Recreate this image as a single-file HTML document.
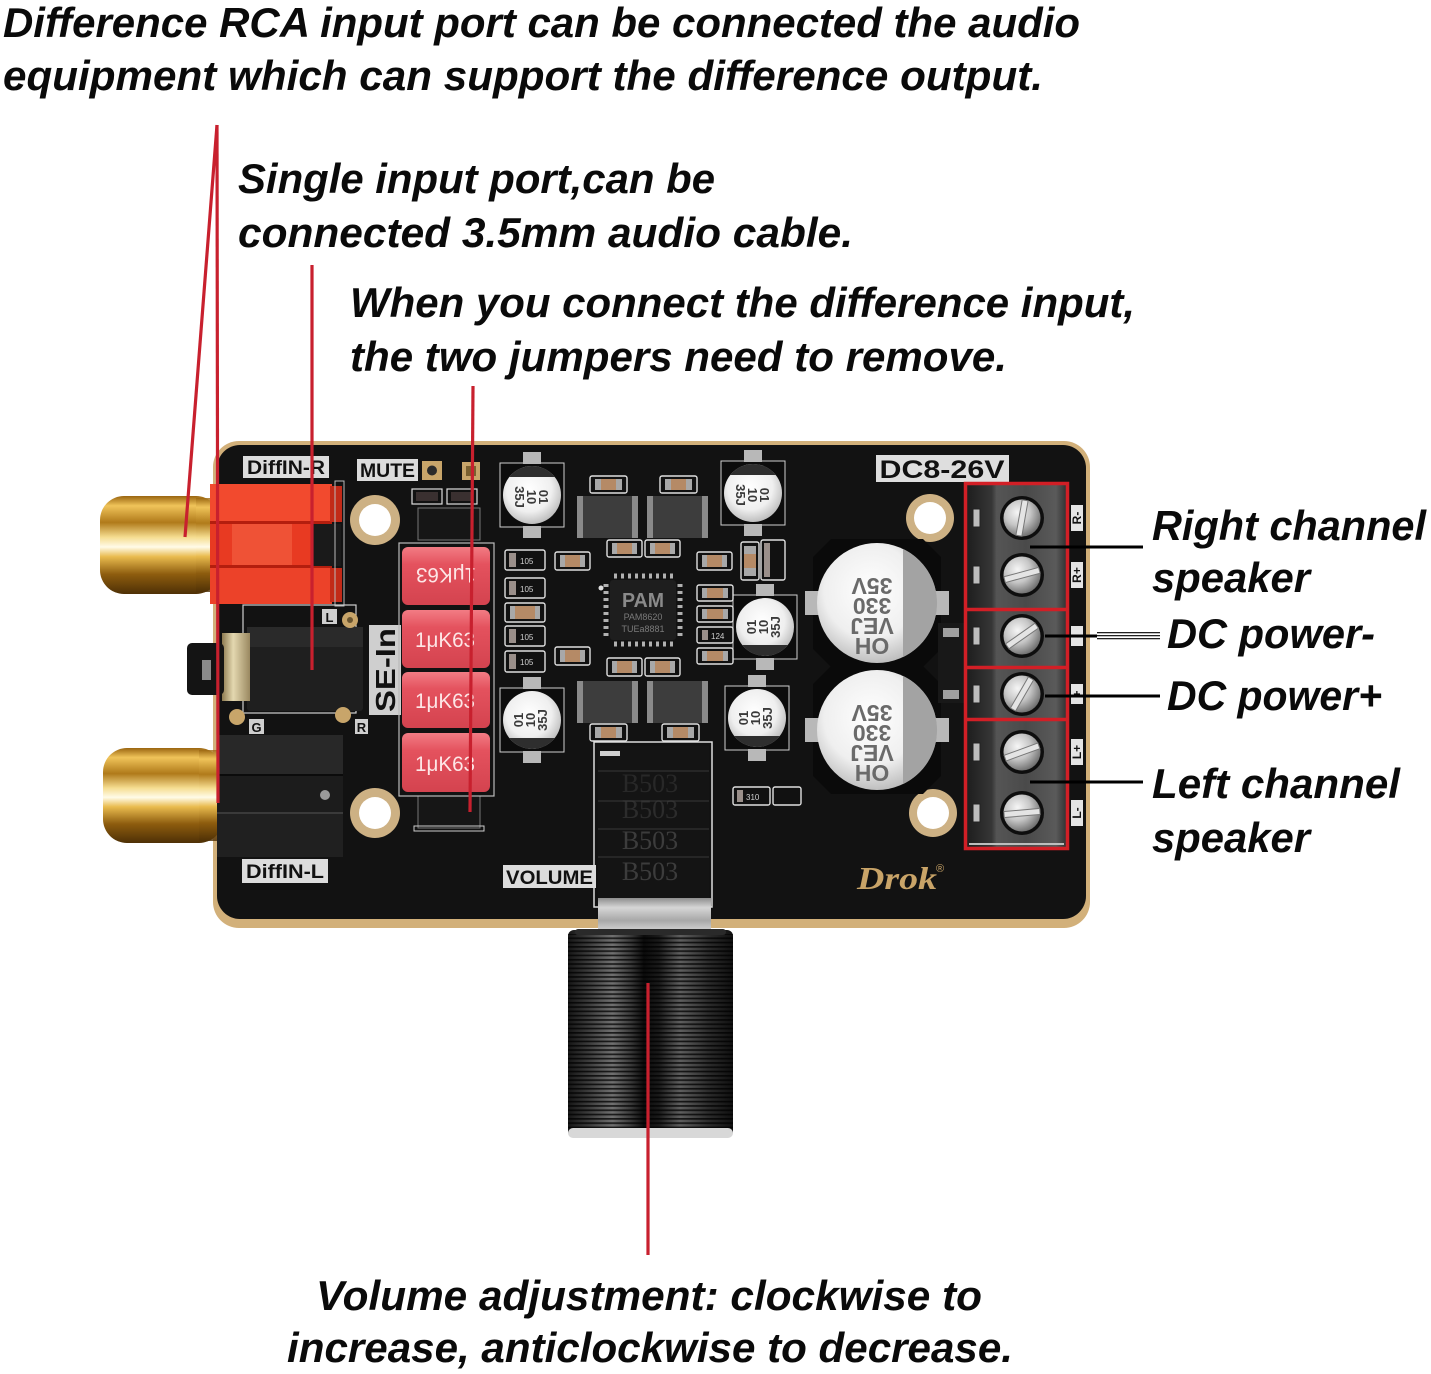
<!DOCTYPE html>
<html><head><meta charset="utf-8"><style>
html,body{margin:0;padding:0;background:#fff;}
svg{display:block;}
.t{font-family:"Liberation Sans",Arial,sans-serif;font-weight:bold;font-style:italic;font-size:42px;fill:#0a0a0a;}
.lb{font-family:"Liberation Sans",Arial,sans-serif;font-weight:bold;fill:#111;}
.sm{font-family:"Liberation Sans",Arial,sans-serif;fill:#cfcfcf;font-size:8px;}
</style></head><body>
<svg width="1431" height="1374" viewBox="0 0 1431 1374" xmlns="http://www.w3.org/2000/svg">
<defs>
<linearGradient id="gold" x1="0" y1="0" x2="0" y2="1">
<stop offset="0" stop-color="#9a6510"/><stop offset="0.1" stop-color="#f0c45a"/><stop offset="0.27" stop-color="#b07a1a"/><stop offset="0.42" stop-color="#f5dd90"/><stop offset="0.52" stop-color="#fffbe8"/><stop offset="0.62" stop-color="#e9bb4e"/><stop offset="0.8" stop-color="#8d5c0e"/><stop offset="1" stop-color="#4e3006"/>
</linearGradient>
<radialGradient id="silv" cx="0.45" cy="0.4" r="0.65"><stop offset="0" stop-color="#ffffff"/><stop offset="0.6" stop-color="#efefef"/><stop offset="1" stop-color="#b4b4b4"/></radialGradient>
<radialGradient id="scr" cx="0.38" cy="0.35" r="0.7"><stop offset="0" stop-color="#f6f6f6"/><stop offset="0.5" stop-color="#c6c6c6"/><stop offset="1" stop-color="#6a6a6a"/></radialGradient>
<linearGradient id="knob" x1="0" y1="0" x2="1" y2="0">
<stop offset="0" stop-color="#161616"/><stop offset="0.12" stop-color="#3a3a3a"/><stop offset="0.27" stop-color="#707070"/><stop offset="0.38" stop-color="#3a3a3a"/><stop offset="0.46" stop-color="#0b0b0b"/><stop offset="0.55" stop-color="#1a1a1a"/><stop offset="0.68" stop-color="#5e5e5e"/><stop offset="0.85" stop-color="#2c2c2c"/><stop offset="1" stop-color="#101010"/>
</linearGradient>
<pattern id="grv" width="10" height="4.3" patternUnits="userSpaceOnUse"><rect width="10" height="1.7" fill="#000" opacity="0.75"/></pattern>
<linearGradient id="alu" x1="0" y1="0" x2="0" y2="1"><stop offset="0" stop-color="#8e8e8e"/><stop offset="0.3" stop-color="#d6d6d6"/><stop offset="0.7" stop-color="#a8a8a8"/><stop offset="1" stop-color="#cfcfcf"/></linearGradient>
<linearGradient id="term" x1="0" y1="0" x2="1" y2="0"><stop offset="0" stop-color="#1e1e1e"/><stop offset="0.25" stop-color="#363636"/><stop offset="0.3" stop-color="#555"/><stop offset="0.6" stop-color="#4a4a4a"/><stop offset="0.9" stop-color="#5a5a5a"/><stop offset="1" stop-color="#333"/></linearGradient>
<linearGradient id="film" x1="0" y1="0" x2="0" y2="1"><stop offset="0" stop-color="#f27c84"/><stop offset="0.3" stop-color="#e4525e"/><stop offset="1" stop-color="#d4434f"/></linearGradient>
<linearGradient id="shield" x1="0" y1="0" x2="1" y2="0"><stop offset="0" stop-color="#8c7a50"/><stop offset="0.4" stop-color="#e4d8b0"/><stop offset="1" stop-color="#9a8860"/></linearGradient>
</defs>
<rect width="1431" height="1374" fill="#fff"/>

<!-- Board -->
<rect x="213" y="441" width="877" height="487" rx="26" fill="#d2b07a"/>
<rect x="217" y="445" width="869" height="474" rx="23" fill="#121212"/>

<!-- RCA barrels -->
<rect x="100" y="496" width="120" height="98" rx="24" fill="url(#gold)"/>
<rect x="196" y="498" width="20" height="94" fill="url(#gold)" opacity="0.8"/>
<rect x="103" y="748" width="120" height="95" rx="24" fill="url(#gold)"/>
<rect x="199" y="750" width="20" height="91" fill="url(#gold)" opacity="0.8"/>

<!-- Red RCA block -->
<rect x="210" y="484" width="122" height="120" fill="#e83a22"/>
<rect x="210" y="484" width="122" height="38" fill="#f24a2e"/>
<rect x="210" y="521" width="122" height="3" fill="#b41e0e"/>
<rect x="232" y="524" width="60" height="42" fill="#ef5236"/>
<rect x="210" y="565" width="122" height="3" fill="#b41e0e"/>
<rect x="210" y="568" width="122" height="36" fill="#ec4229"/>
<rect x="313" y="524" width="28" height="42" fill="#1a1a1a"/>
<rect x="330" y="486" width="12" height="36" fill="#c22a18"/>
<rect x="330" y="568" width="12" height="34" fill="#c22a18"/>
<rect x="335" y="481" width="9" height="125" fill="none" stroke="#bbb" stroke-width="1"/>

<!-- Black RCA block -->
<rect x="217" y="735" width="126" height="122" fill="#1c1c1c"/>
<rect x="217" y="735" width="126" height="40" fill="#282828"/>
<rect x="217" y="774" width="126" height="2" fill="#0b0b0b"/>
<rect x="217" y="812" width="126" height="45" fill="#202020"/>
<rect x="217" y="812" width="126" height="2" fill="#3a3a3a"/>
<circle cx="325" cy="795" r="5" fill="#9a9a9a"/>

<!-- 3.5mm jack -->
<rect x="243" y="605" width="113" height="108" fill="none" stroke="#cfcfcf" stroke-width="1.2"/>
<rect x="247" y="627" width="116" height="84" rx="3" fill="#1f1f1f"/>
<rect x="247" y="627" width="116" height="20" fill="#2a2a2a"/>
<rect x="222" y="633" width="28" height="68" fill="url(#shield)"/>
<rect x="187" y="643" width="37" height="52" rx="5" fill="#141414"/>
<rect x="202" y="660" width="9" height="20" fill="#8a8a8a"/>
<circle cx="350" cy="620" r="8" fill="#c8a56a"/><circle cx="350" cy="620" r="3" fill="#6a5530"/>
<circle cx="237" cy="717" r="8" fill="#c8a56a"/>
<circle cx="343" cy="715" r="8" fill="#c8a56a"/>
<rect x="322" y="609" width="15" height="15" fill="#cfcfcf"/><text x="329.5" y="622" class="lb" font-size="13" text-anchor="middle">L</text>
<rect x="249" y="719" width="15" height="15" fill="#cfcfcf"/><text x="256.5" y="732" class="lb" font-size="13" text-anchor="middle">G</text>
<rect x="355" y="719" width="13" height="15" fill="#cfcfcf"/><text x="361.5" y="732" class="lb" font-size="13" text-anchor="middle">R</text>

<!-- Labels -->
<rect x="243" y="456" width="86" height="22" fill="#dcdcdc"/>
<text x="247" y="474" class="lb" font-size="19" textLength="78" lengthAdjust="spacingAndGlyphs">DiffIN-R</text>
<rect x="357" y="459" width="61" height="22" fill="#dcdcdc"/>
<text x="360" y="477" class="lb" font-size="19" textLength="55" lengthAdjust="spacingAndGlyphs">MUTE</text>
<rect x="422" y="461" width="20" height="19" fill="#c8a56a"/><circle cx="432" cy="470.5" r="5" fill="#2a2a2a"/>
<rect x="462" y="462" width="18" height="18" fill="#c8a56a"/><rect x="466" y="466" width="10" height="10" fill="#7a6030"/>
<rect x="242" y="859" width="86" height="24" fill="#dcdcdc"/>
<text x="246" y="878" class="lb" font-size="19" textLength="78" lengthAdjust="spacingAndGlyphs">DiffIN-L</text>
<rect x="503" y="865" width="93" height="23" fill="#dcdcdc"/>
<text x="506" y="884" class="lb" font-size="19" textLength="87" lengthAdjust="spacingAndGlyphs">VOLUME</text>
<rect x="369" y="625" width="32" height="90" fill="#cfcfcf"/>
<text transform="translate(395,670) rotate(-90)" x="0" y="0" class="lb" font-size="28" text-anchor="middle" textLength="84" lengthAdjust="spacingAndGlyphs">SE-In</text>
<rect x="876" y="455" width="133" height="27" fill="#dedede"/>
<text x="942" y="478" class="lb" font-size="25" text-anchor="middle" textLength="125" lengthAdjust="spacingAndGlyphs">DC8-26V</text>

<!-- Mounting holes -->
<g fill="#cdb184"><circle cx="375" cy="520" r="25"/><circle cx="375" cy="813" r="25"/><circle cx="930" cy="518" r="24"/><circle cx="933" cy="813" r="24"/></g>
<g fill="#fff"><circle cx="375" cy="520" r="16"/><circle cx="375" cy="813" r="16"/><circle cx="930" cy="518" r="16"/><circle cx="933" cy="813" r="16"/></g>

<!-- small SMD above jumper -->
<rect x="412" y="489" width="30" height="15" fill="#111" stroke="#ddd" stroke-width="1.2"/><rect x="416" y="492" width="22" height="9" fill="#3a3030"/>
<rect x="447" y="489" width="30" height="15" fill="#111" stroke="#ddd" stroke-width="1.2"/><rect x="451" y="492" width="22" height="9" fill="#3a3030"/>
<!-- Jumpers -->
<rect x="418" y="508" width="62" height="32" fill="#161616" stroke="#777" stroke-width="1"/>
<rect x="418" y="796" width="62" height="32" fill="#161616" stroke="#777" stroke-width="1"/>
<rect x="414" y="826" width="70" height="5" fill="none" stroke="#ccc" stroke-width="1"/>

<!-- Film caps -->
<rect x="399" y="543" width="95" height="253" fill="none" stroke="#bbb" stroke-width="1.2"/>
<rect x="402" y="547" width="88" height="58" rx="6" fill="url(#film)"/>
<rect x="402" y="610" width="88" height="58" rx="6" fill="url(#film)"/>
<rect x="402" y="672" width="88" height="56" rx="6" fill="url(#film)"/>
<rect x="402" y="733" width="88" height="59" rx="6" fill="url(#film)"/>
<g font-family="Liberation Sans, Arial, sans-serif" font-size="21" fill="#fde6e6" text-anchor="middle">
<text transform="translate(446,576) rotate(180)" y="8" textLength="60" lengthAdjust="spacingAndGlyphs">1μK63</text>
<text x="445" y="647" textLength="60" lengthAdjust="spacingAndGlyphs">1μK63</text>
<text x="445" y="708" textLength="60" lengthAdjust="spacingAndGlyphs">1μK63</text>
<text x="445" y="771" textLength="60" lengthAdjust="spacingAndGlyphs">1μK63</text>
</g>

<!-- Small electrolytic caps -->
<g>
<rect x="500" y="463" width="64" height="64" fill="#0c0c0c" stroke="#cfcfcf" stroke-width="1"/>
<rect x="523" y="452" width="18" height="12" fill="#b8b8b8"/><rect x="523" y="526" width="18" height="12" fill="#b8b8b8"/>
<circle cx="532" cy="495" r="29" fill="url(#silv)"/>
<path d="M509.3 477 A29 29 0 0 1 554.7 477 Z" fill="#2e2e2e"/>

<rect x="721" y="461" width="64" height="64" fill="#0c0c0c" stroke="#cfcfcf" stroke-width="1"/>
<rect x="744" y="450" width="18" height="12" fill="#b8b8b8"/><rect x="744" y="524" width="18" height="12" fill="#b8b8b8"/>
<circle cx="753" cy="493" r="29" fill="url(#silv)"/>
<path d="M730.3 475 A29 29 0 0 1 775.7 475 Z" fill="#2e2e2e"/>

<rect x="733" y="595" width="64" height="64" fill="#0c0c0c" stroke="#cfcfcf" stroke-width="1"/>
<rect x="756" y="584" width="18" height="12" fill="#b8b8b8"/><rect x="756" y="658" width="18" height="12" fill="#b8b8b8"/>
<circle cx="765" cy="627" r="29" fill="url(#silv)"/>
<path d="M787.7 645 A29 29 0 0 1 742.3 645 Z" fill="#2e2e2e"/>

<rect x="500" y="688" width="64" height="64" fill="#0c0c0c" stroke="#cfcfcf" stroke-width="1"/>
<rect x="523" y="677" width="18" height="12" fill="#b8b8b8"/><rect x="523" y="751" width="18" height="12" fill="#b8b8b8"/>
<circle cx="532" cy="720" r="29" fill="url(#silv)"/>
<path d="M554.7 738 A29 29 0 0 1 509.3 738 Z" fill="#2e2e2e"/>

<rect x="725" y="686" width="64" height="64" fill="#0c0c0c" stroke="#cfcfcf" stroke-width="1"/>
<rect x="748" y="675" width="18" height="12" fill="#b8b8b8"/><rect x="748" y="749" width="18" height="12" fill="#b8b8b8"/>
<circle cx="757" cy="718" r="29" fill="url(#silv)"/>
<path d="M779.7 736 A29 29 0 0 1 734.3 736 Z" fill="#2e2e2e"/>
</g>
<g font-family="Liberation Sans, Arial, sans-serif" font-weight="bold" font-size="13" fill="#3a3a3a" text-anchor="middle">
<g transform="translate(532,497) rotate(90)"><text y="-7">01</text><text y="5">10</text><text y="17">35J</text></g>
<g transform="translate(753,495) rotate(90)"><text y="-7">01</text><text y="5">10</text><text y="17">35J</text></g>
<g transform="translate(763,627) rotate(-90)"><text y="-7">01</text><text y="5">10</text><text y="17">35J</text></g>
<g transform="translate(530,720) rotate(-90)"><text y="-7">01</text><text y="5">10</text><text y="17">35J</text></g>
<g transform="translate(755,718) rotate(-90)"><text y="-7">01</text><text y="5">10</text><text y="17">35J</text></g>
</g>

<!-- Inductors -->
<g>
<rect x="577" y="496" width="61" height="42" rx="3" fill="#3d3d3d"/><rect x="577" y="496" width="6" height="42" fill="#8a8a8a"/><rect x="632" y="496" width="6" height="42" fill="#8a8a8a"/>
<rect x="647" y="496" width="61" height="42" rx="3" fill="#3d3d3d"/><rect x="647" y="496" width="6" height="42" fill="#8a8a8a"/><rect x="702" y="496" width="6" height="42" fill="#8a8a8a"/>
<rect x="577" y="681" width="61" height="42" rx="3" fill="#3d3d3d"/><rect x="577" y="681" width="6" height="42" fill="#8a8a8a"/><rect x="632" y="681" width="6" height="42" fill="#8a8a8a"/>
<rect x="647" y="681" width="61" height="42" rx="3" fill="#3d3d3d"/><rect x="647" y="681" width="6" height="42" fill="#8a8a8a"/><rect x="702" y="681" width="6" height="42" fill="#8a8a8a"/>
</g>

<!-- SMD caps -->
<g stroke="#e0e0e0" stroke-width="1.4" fill="#111">
<rect x="590" y="476" width="37" height="17" rx="2"/><rect x="660" y="476" width="37" height="17" rx="2"/>
<rect x="607" y="540" width="35" height="17" rx="2"/><rect x="645" y="540" width="35" height="17" rx="2"/>
<rect x="555" y="552" width="35" height="18" rx="2"/><rect x="697" y="552" width="35" height="18" rx="2"/>
<rect x="555" y="647" width="35" height="18" rx="2"/>
<rect x="607" y="658" width="35" height="18" rx="2"/><rect x="645" y="658" width="35" height="18" rx="2"/>
<rect x="590" y="724" width="37" height="17" rx="2"/><rect x="662" y="724" width="37" height="17" rx="2"/>
<rect x="697" y="585" width="36" height="16" rx="2"/><rect x="697" y="606" width="36" height="16" rx="2"/>
<rect x="697" y="627" width="36" height="16" rx="2"/><rect x="697" y="648" width="36" height="16" rx="2"/>
<rect x="741" y="542" width="18" height="38" rx="2"/><rect x="761" y="540" width="24" height="40" rx="2"/>
<rect x="505" y="550" width="40" height="20" rx="2"/><rect x="505" y="578" width="40" height="20" rx="2"/>
<rect x="505" y="603" width="40" height="19" rx="2"/><rect x="505" y="626" width="40" height="20" rx="2"/>
<rect x="505" y="651" width="40" height="21" rx="2"/>
<rect x="733" y="787" width="37" height="18" rx="2"/><rect x="773" y="787" width="28" height="18" rx="2"/>
</g>
<g fill="#a8a8a8">
<rect x="595" y="479" width="27" height="11"/><rect x="665" y="479" width="27" height="11"/>
<rect x="612" y="543" width="25" height="11"/><rect x="650" y="543" width="25" height="11"/>
<rect x="560" y="555" width="25" height="12"/><rect x="702" y="555" width="25" height="12"/>
<rect x="560" y="650" width="25" height="12"/>
<rect x="612" y="661" width="25" height="12"/><rect x="650" y="661" width="25" height="12"/>
<rect x="595" y="727" width="27" height="11"/><rect x="667" y="727" width="27" height="11"/>
<rect x="702" y="588" width="26" height="10"/><rect x="702" y="609" width="26" height="10"/><rect x="702" y="651" width="26" height="10"/>
<rect x="744" y="546" width="12" height="30"/><rect x="510" y="606" width="30" height="13"/>
</g>
<g fill="#b58a66">
<rect x="601" y="479" width="15" height="11"/><rect x="671" y="479" width="15" height="11"/>
<rect x="617" y="543" width="15" height="11"/><rect x="655" y="543" width="15" height="11"/>
<rect x="565" y="555" width="15" height="12"/><rect x="707" y="555" width="15" height="12"/>
<rect x="565" y="650" width="15" height="12"/>
<rect x="617" y="661" width="15" height="12"/><rect x="655" y="661" width="15" height="12"/>
<rect x="601" y="727" width="15" height="11"/><rect x="673" y="727" width="15" height="11"/>
<rect x="707" y="588" width="16" height="10"/><rect x="707" y="609" width="16" height="10"/><rect x="707" y="651" width="16" height="10"/>
<rect x="744" y="554" width="12" height="14"/><rect x="515" y="606" width="20" height="13"/>
</g>
<g fill="#9a8f8a">
<rect x="509" y="553" width="7" height="14"/><rect x="509" y="581" width="7" height="14"/><rect x="509" y="629" width="7" height="14"/><rect x="509" y="654" width="7" height="15"/>
<rect x="702" y="630" width="6" height="10"/><rect x="737" y="790" width="6" height="12"/><rect x="764" y="543" width="6" height="34"/>
</g>
<g class="sm"><text x="520" y="564">105</text><text x="520" y="592">105</text><text x="520" y="640">105</text><text x="520" y="665">105</text><text x="711" y="639">124</text><text x="746" y="800">310</text></g>

<!-- Chip -->
<rect x="610" y="580" width="66" height="60" rx="3" fill="#1e1e1e"/>
<line x1="614" y1="576" x2="673" y2="576" stroke="#b0b0b0" stroke-width="5" stroke-dasharray="3 4"/>
<line x1="614" y1="644" x2="673" y2="644" stroke="#b0b0b0" stroke-width="5" stroke-dasharray="3 4"/>
<line x1="606" y1="584" x2="606" y2="637" stroke="#b0b0b0" stroke-width="5" stroke-dasharray="3 4"/>
<line x1="680" y1="584" x2="680" y2="637" stroke="#b0b0b0" stroke-width="5" stroke-dasharray="3 4"/>
<circle cx="601" cy="588" r="2.5" fill="#ddd"/>
<text x="643" y="607" font-family="Liberation Sans, Arial, sans-serif" font-weight="bold" font-size="20" fill="#8a8a8a" text-anchor="middle" textLength="42" lengthAdjust="spacingAndGlyphs">PAM</text>
<text x="643" y="620" font-family="Liberation Sans, Arial, sans-serif" font-size="9" fill="#7a7a7a" text-anchor="middle">PAM8620</text>
<text x="643" y="632" font-family="Liberation Sans, Arial, sans-serif" font-size="9" fill="#7a7a7a" text-anchor="middle">TUEa8881</text>

<!-- Big caps -->
<polygon points="831,539 923,539 941,557 941,649 923,667 831,667 813,649 813,557" fill="#0a0a0a"/>
<polygon points="831,666 923,666 941,684 941,776 923,794 831,794 813,776 813,684" fill="#0a0a0a"/>
<rect x="805" y="591" width="14" height="24" fill="#b8b8b8"/><rect x="935" y="591" width="14" height="24" fill="#b8b8b8"/>
<rect x="805" y="718" width="14" height="24" fill="#b8b8b8"/><rect x="935" y="718" width="14" height="24" fill="#b8b8b8"/>
<circle cx="877" cy="603" r="60" fill="url(#silv)"/>
<circle cx="877" cy="730" r="60" fill="url(#silv)"/>
<path d="M903 548.9 A60 60 0 0 1 903 657.1 Z" fill="#a3a3a3"/>
<path d="M903 675.9 A60 60 0 0 1 903 784.1 Z" fill="#a3a3a3"/>
<g font-family="Liberation Sans, Arial, sans-serif" font-weight="bold" font-size="23" fill="#6a6a6a" text-anchor="middle">
<g transform="translate(872,612) rotate(180)"><text y="-26">OH</text><text y="-6">VEJ</text><text y="14">330</text><text y="34">35V</text></g>
<g transform="translate(872,739) rotate(180)"><text y="-26">OH</text><text y="-6">VEJ</text><text y="14">330</text><text y="34">35V</text></g>
</g>
<rect x="938" y="623" width="26" height="80" fill="#181818"/>
<rect x="943" y="628" width="16" height="9" fill="#a0a0a0"/><rect x="943" y="690" width="16" height="9" fill="#a0a0a0"/>

<!-- Terminal block -->
<rect x="967" y="485" width="99" height="362" fill="url(#term)"/>
<g fill="#bdbdbd" stroke="#222" stroke-width="1">
<rect x="973" y="509" width="7" height="18"/><rect x="973" y="566" width="7" height="18"/><rect x="973" y="627" width="7" height="18"/>
<rect x="973" y="685" width="7" height="18"/><rect x="973" y="743" width="7" height="18"/><rect x="973" y="804" width="7" height="18"/>
</g>
<g>
<circle cx="1022" cy="518" r="22" fill="#0e0e0e"/><circle cx="1022" cy="518" r="18.5" fill="url(#scr)"/>
<circle cx="1022" cy="575" r="22" fill="#0e0e0e"/><circle cx="1022" cy="575" r="18.5" fill="url(#scr)"/>
<circle cx="1022" cy="636" r="22" fill="#0e0e0e"/><circle cx="1022" cy="636" r="18.5" fill="url(#scr)"/>
<circle cx="1022" cy="694" r="22" fill="#0e0e0e"/><circle cx="1022" cy="694" r="18.5" fill="url(#scr)"/>
<circle cx="1022" cy="752" r="22" fill="#0e0e0e"/><circle cx="1022" cy="752" r="18.5" fill="url(#scr)"/>
<circle cx="1022" cy="813" r="22" fill="#0e0e0e"/><circle cx="1022" cy="813" r="18.5" fill="url(#scr)"/>
</g>
<g fill="#e4e4e4" stroke="#777" stroke-width="1">
<rect x="-18" y="-3" width="36" height="6" transform="translate(1022,518) rotate(-80)"/>
<rect x="-18" y="-3" width="36" height="6" transform="translate(1022,575) rotate(-15)"/>
<rect x="-18" y="-3" width="36" height="6" transform="translate(1022,636) rotate(-35)"/>
<rect x="-18" y="-3" width="36" height="6" transform="translate(1022,694) rotate(-60)"/>
<rect x="-18" y="-3" width="36" height="6" transform="translate(1022,752) rotate(-20)"/>
<rect x="-18" y="-3" width="36" height="6" transform="translate(1022,813) rotate(-5)"/>
</g>
<rect x="969" y="843" width="95" height="2" fill="#bdbdbd"/>
<g fill="none" stroke="#d21f26" stroke-width="3.5">
<rect x="965.5" y="483.5" width="102" height="365"/>
<line x1="965.5" y1="609.5" x2="1067.5" y2="609.5"/>
<line x1="965.5" y1="667.5" x2="1067.5" y2="667.5"/>
<line x1="965.5" y1="719.5" x2="1067.5" y2="719.5"/>
</g>
<g fill="#e4e4e4"><rect x="1071" y="505" width="12" height="26"/><rect x="1071" y="562" width="12" height="26"/><rect x="1071" y="626" width="12" height="20"/><rect x="1071" y="684" width="12" height="20"/><rect x="1071" y="739" width="12" height="26"/><rect x="1071" y="800" width="12" height="26"/></g>
<g font-family="Liberation Sans, Arial, sans-serif" font-weight="bold" font-size="12" fill="#111" text-anchor="middle">
<text transform="translate(1081,518) rotate(-90)">R-</text><text transform="translate(1081,575) rotate(-90)">R+</text>
<text transform="translate(1081,636) rotate(-90)">-</text><text transform="translate(1081,694) rotate(-90)">+</text>
<text transform="translate(1081,752) rotate(-90)">L+</text><text transform="translate(1081,813) rotate(-90)">L-</text>
</g>

<!-- Potentiometer -->
<rect x="594" y="742" width="118" height="165" fill="none" stroke="#ddd" stroke-width="1.5"/>
<rect x="598" y="746" width="111" height="156" fill="#141414"/>
<g fill="#262626"><rect x="598" y="770" width="111" height="2"/><rect x="598" y="800" width="111" height="2"/><rect x="598" y="828" width="111" height="2"/><rect x="598" y="856" width="111" height="2"/></g>
<rect x="600" y="751" width="20" height="5" fill="#cfcfcf"/>
<g font-family="Liberation Serif, serif" font-size="26" fill="#3c3c3c" text-anchor="middle"><text x="650" y="792" opacity="0.5">B503</text><text x="650" y="818" opacity="0.6">B503</text><text x="650" y="849">B503</text><text x="650" y="880">B503</text></g>
<rect x="598" y="898" width="113" height="32" fill="url(#alu)"/>

<!-- Knob -->
<rect x="568" y="930" width="165" height="207" rx="6" fill="url(#knob)"/>
<rect x="568" y="934" width="165" height="196" fill="url(#grv)"/>
<rect x="568" y="1128" width="165" height="10" rx="5" fill="#d8d8d8"/>
<rect x="575" y="929" width="151" height="6" rx="3" fill="#2a2a2a"/>

<!-- Drok logo -->
<text x="857" y="889" font-family="Liberation Serif, serif" font-weight="bold" font-style="italic" font-size="32" fill="#c9a468" textLength="80" lengthAdjust="spacingAndGlyphs">Drok</text>
<text x="936" y="872" font-family="Liberation Sans, Arial, sans-serif" font-size="11" fill="#c9a468">®</text>

<!-- Annotation lines -->
<g stroke="#c8202e" stroke-width="3.2">
<line x1="217" y1="125" x2="185" y2="537"/>
<line x1="217" y1="125" x2="218" y2="803"/>
<line x1="312" y1="265" x2="312" y2="670"/>
<line x1="473" y1="386" x2="470" y2="812"/>
<line x1="648" y1="983" x2="648" y2="1255"/>
</g>
<g stroke="#000">
<line x1="1030" y1="547" x2="1143" y2="547" stroke-width="3"/>
<line x1="1045" y1="636" x2="1097" y2="636" stroke-width="3"/>
<line x1="1097" y1="632.7" x2="1160" y2="632.7" stroke-width="1.2"/>
<line x1="1097" y1="635.7" x2="1160" y2="635.7" stroke-width="1.2"/>
<line x1="1097" y1="638.7" x2="1160" y2="638.7" stroke-width="1.2"/>
<line x1="1045" y1="696" x2="1160" y2="696" stroke-width="3"/>
<line x1="1030" y1="782" x2="1143" y2="782" stroke-width="3"/>
</g>

<!-- Text -->
<text class="t" x="3" y="37" textLength="1077" lengthAdjust="spacingAndGlyphs">Difference RCA input port can be connected the audio</text>
<text class="t" x="3" y="90" textLength="1040" lengthAdjust="spacingAndGlyphs">equipment which can support the difference output.</text>
<text class="t" x="238" y="193" textLength="477" lengthAdjust="spacingAndGlyphs">Single input port,can be</text>
<text class="t" x="238" y="247" textLength="615" lengthAdjust="spacingAndGlyphs">connected 3.5mm audio cable.</text>
<text class="t" x="350" y="317" textLength="785" lengthAdjust="spacingAndGlyphs">When you connect the difference input,</text>
<text class="t" x="350" y="371" textLength="657" lengthAdjust="spacingAndGlyphs">the two jumpers need to remove.</text>
<text class="t" x="1152" y="540" textLength="274" lengthAdjust="spacingAndGlyphs">Right channel</text>
<text class="t" x="1152" y="592" textLength="158" lengthAdjust="spacingAndGlyphs">speaker</text>
<text class="t" x="1167" y="648" textLength="208" lengthAdjust="spacingAndGlyphs">DC power-</text>
<text class="t" x="1167" y="710" textLength="215" lengthAdjust="spacingAndGlyphs">DC power+</text>
<text class="t" x="1152" y="798" textLength="248" lengthAdjust="spacingAndGlyphs">Left channel</text>
<text class="t" x="1152" y="852" textLength="158" lengthAdjust="spacingAndGlyphs">speaker</text>
<text class="t" x="316" y="1310" textLength="666" lengthAdjust="spacingAndGlyphs">Volume adjustment: clockwise to</text>
<text class="t" x="287" y="1362" textLength="726" lengthAdjust="spacingAndGlyphs">increase, anticlockwise to decrease.</text>
</svg>
</body></html>
